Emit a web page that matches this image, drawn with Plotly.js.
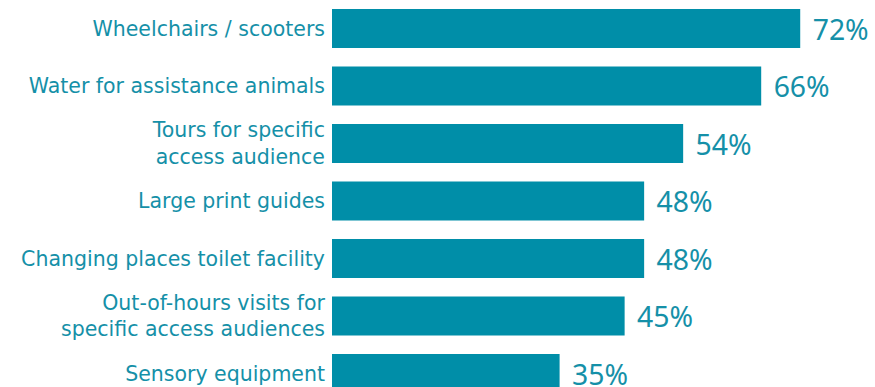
<!DOCTYPE html>
<html>
<head>
<meta charset="utf-8">
<script src="https://cdn.plot.ly/plotly-3.0.1.min.js"></script>
<style>html,body{margin:0;padding:0;background:#fff;}#chart{width:875px;height:387px;}</style>
</head>
<body>
<div id="chart"></div>
<script>
const categories = [
  "Wheelchairs / scooters",
  "Water for assistance animals",
  "Tours for specific<br>access audience",
  "Large print guides",
  "Changing places toilet facility",
  "Out-of-hours visits for<br>specific access audiences",
  "Sensory equipment"
];
const values = [72, 66, 54, 48, 48, 45, 35];
const valueLabels = values.map(v => "\u2009\u2009" + v + "%");

const barColor = "#008ea8";
const textColor = "#1590a8";

const trace = {
  type: "bar",
  orientation: "h",
  x: values,
  y: categories,
  marker: {color: barColor},
  text: valueLabels,
  textposition: "outside",
  cliponaxis: false,
  textfont: {family: "Noto Sans, sans-serif", size: 30.5, color: textColor},
  hoverinfo: "none"
};

const layout = {
  width: 875,
  height: 387,
  margin: {l: 332, r: 0, t: 0, b: 0, pad: 0},
  paper_bgcolor: "#fff",
  plot_bgcolor: "#fff",
  bargap: 0.32,
  showlegend: false,
  xaxis: {range: [0, 83.5], visible: false, fixedrange: true},
  yaxis: {
    type: "category",
    range: [6.2348, -0.4957],
    showgrid: false, zeroline: false, showline: false,
    ticks: "", ticklabelstandoff: 6,
    tickfont: {family: "DejaVu Sans, sans-serif", size: 20.5, color: textColor}
  }
};

Plotly.newPlot("chart", [trace], layout, {displayModeBar: false, staticPlot: true});
</script>
</body>
</html>
